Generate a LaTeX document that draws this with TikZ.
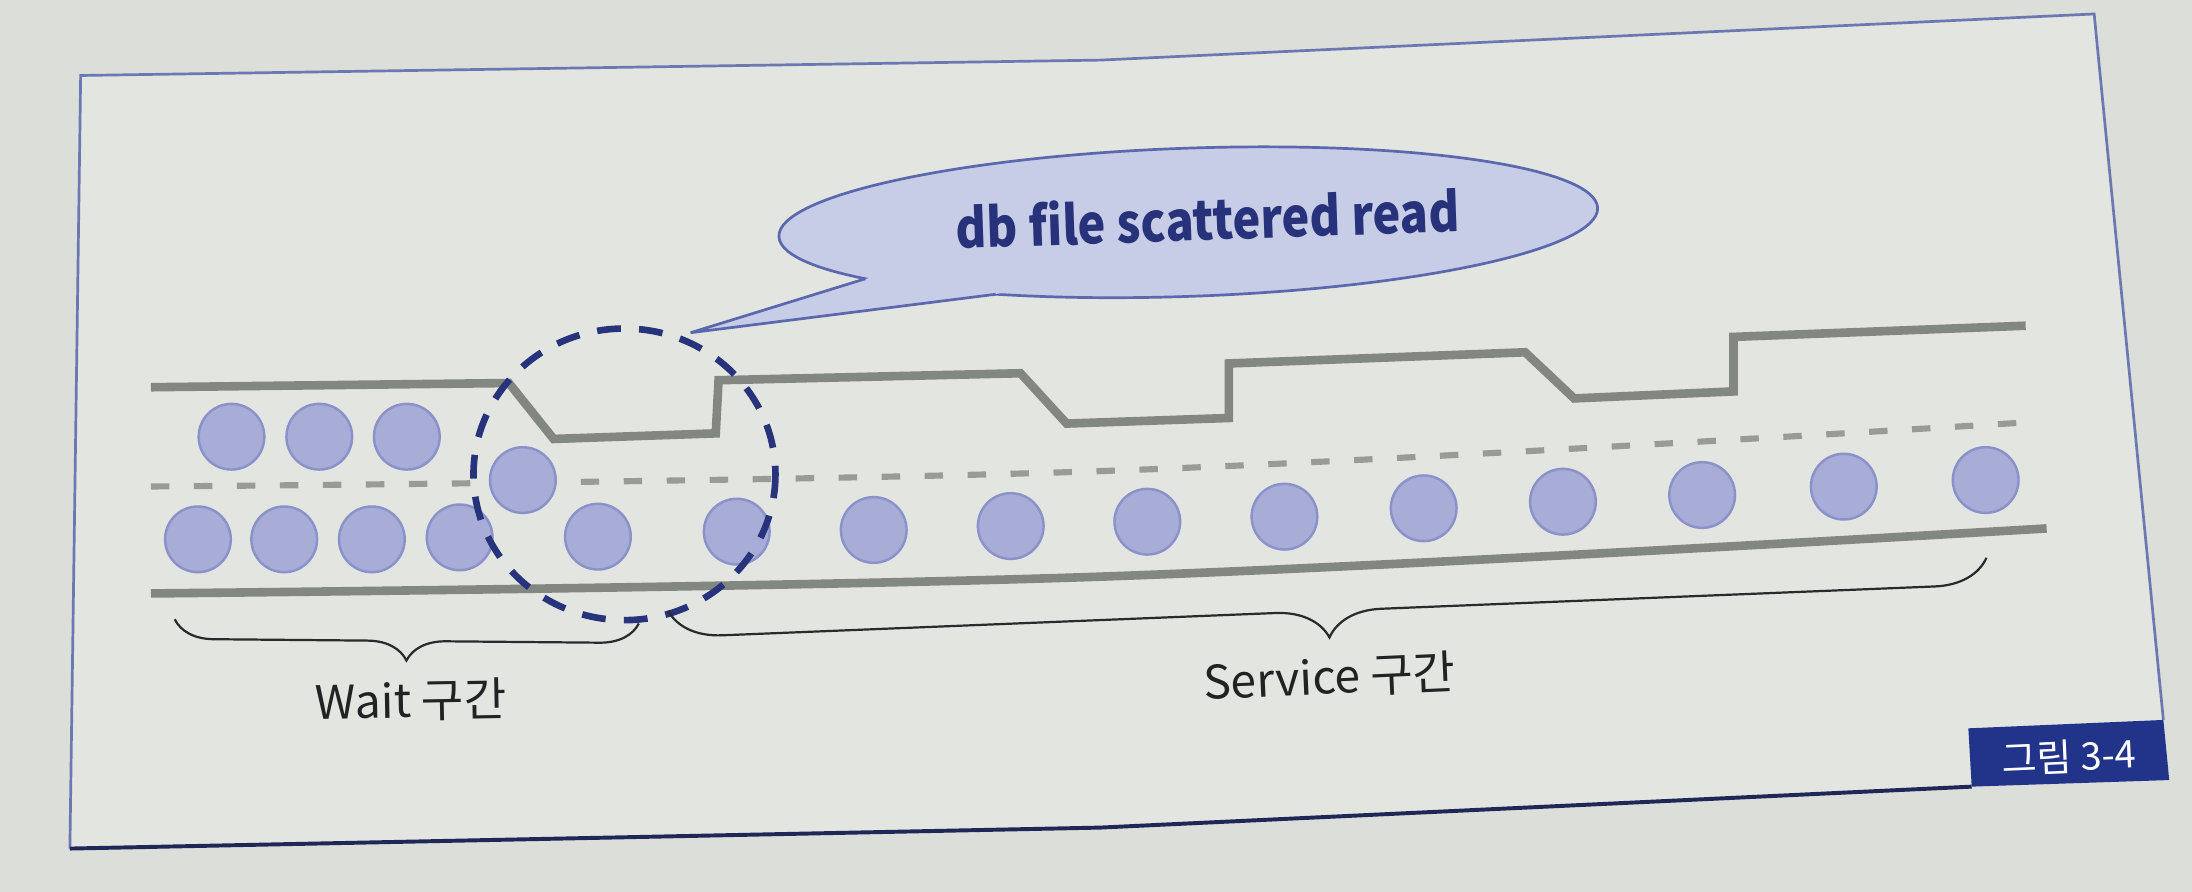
\documentclass[tikz,border=0pt]{standalone}
\usepackage{fontspec}
\setmainfont{Noto Sans CJK KR}
\usetikzlibrary{decorations.pathreplacing}
\definecolor{paper}{HTML}{DCDEDA}
\definecolor{inner}{HTML}{E3E5E1}
\definecolor{frameblue}{HTML}{6B79B2}
\definecolor{framedark}{HTML}{1F2756}
\definecolor{wallgrey}{HTML}{828781}
\definecolor{dashgrey}{HTML}{989C95}
\definecolor{ballfill}{HTML}{A7ADD6}
\definecolor{ballline}{HTML}{8A92C9}
\definecolor{navy}{HTML}{27337A}
\definecolor{callfill}{HTML}{C7CCE7}
\definecolor{callline}{HTML}{5B68AE}
\definecolor{dbtext}{HTML}{27327A}
\definecolor{labelbox}{HTML}{22338A}
\definecolor{labeltext}{HTML}{222222}
\definecolor{bracecol}{HTML}{2A2A2A}
\tikzset{
  ball/.style={circle, fill=ballfill, draw=ballline, line width=1pt, minimum size=0.94cm, inner sep=0pt},
  wall/.style={draw=wallgrey, line width=3.5pt, line join=miter},
  midline/.style={draw=dashgrey, line width=2.5pt, dash pattern=on 7.5pt off 10pt},
  focus/.style={draw=navy, line width=2.7pt, dash pattern=on 9.7pt off 7.4pt},
  bracestyle/.style={draw=bracecol, line width=0.9pt, decorate, decoration={brace,mirror,amplitude=#1}},
  lbl/.style={text=labeltext, font=\fontsize{18.8}{22}\selectfont, inner sep=0pt},
}
\begin{document}
\begin{tikzpicture}[x=0.02cm,y=-0.02cm]
\useasboundingbox (0,0) rectangle (1568,638);
\fill[paper] (0,0) rectangle (1568,638);
% frame interior
\fill[inner] (57.7,54) -- (787,43) -- (1498,10) -- (1547.5,515) -- (1551.7,558) -- (1410.4,562.7) -- (787,592) -- (50,607) -- cycle;
\draw[frameblue, line width=1.1pt] (50,607) -- (57.7,54) -- (787,43) -- (1498,10) -- (1547.5,515);
\draw[framedark, line width=1.6pt] (50,607) -- (787,592) -- (1410.4,562.7);
% label box
\fill[labelbox] (1408,521) -- (1547.5,515) -- (1551.7,558) -- (1410.4,562.7) -- cycle;
\node[text=white, font=\fontsize{15.5}{18}\selectfont, rotate=2.5, inner sep=0pt] (fig) at (1480,541) {그림 3-4};
% upper wall (stepped)
\draw[wall] (108,277) -- (364,274) -- (396,314) -- (512,310) -- (514,272) -- (730,267) -- (763,303) -- (879,299) -- (879,260) -- (1091,252) -- (1126,285) -- (1240,280) -- (1240,241) -- (1449,233);
% middle dashed line
\draw[midline] plot[smooth, tension=0.6] coordinates {(108,348) (787,337) (1452,302)};
% lower wall
\draw[wall] plot[smooth, tension=0.6] coordinates {(108,424.5) (787,412.5) (1464,378)};
% balls
\foreach \n/\x/\y in {u1/165.6/312.4, u2/228.4/312.4, u3/291/312.4, m1/374/343.4,
  l1/141.6/385.8, l2/203.3/385.8, l3/266/385.8, l4/328.8/384.4, l5/427.7/383.9,
  l6/527/380.3, l7/625/379.1, l8/723/376.3, l9/820.7/373.2, l10/918.8/369.6,
  l11/1018.4/363.6, l12/1118/358.9, l13/1217.6/354.1, l14/1318.9/348.1, l15/1420.4/343.4}
  \node[ball] (\n) at (\x,\y) {};
% focus circle
\draw[focus] (446.7,339.3) ellipse [x radius=108, y radius=104.3];
% callout
\fill[callfill, draw=callline, line width=1.1pt, rotate around={2:(850,159)}] (850,159) ellipse [x radius=293, y radius=53];
\fill[callfill] (655,188.6) -- (494,238) -- (761.5,204) -- cycle;
\coordinate (tip) at (494,238);
\coordinate (ta) at (619,199.4);
\coordinate (tb) at (712.3,210.5);
\draw[callline, line width=1.1pt, line join=miter] (ta) -- (tip) -- (tb);
\node[text=dbtext, font=\bfseries\fontsize{22}{26}\selectfont, rotate=2, inner sep=0pt] (db) at (864,156) {\scalebox{0.87}[1]{db file scattered read}};
% braces
\draw[bracestyle=0.56cm] (125,443) -- (457,446);
\draw[bracestyle=0.76cm] (478,437) -- (1421,399);
\node[lbl, rotate=1] (wait) at (294,501) {Wait 구간};
\node[lbl, rotate=2.5] (service) at (951,484) {Service 구간};
\end{tikzpicture}
\end{document}
